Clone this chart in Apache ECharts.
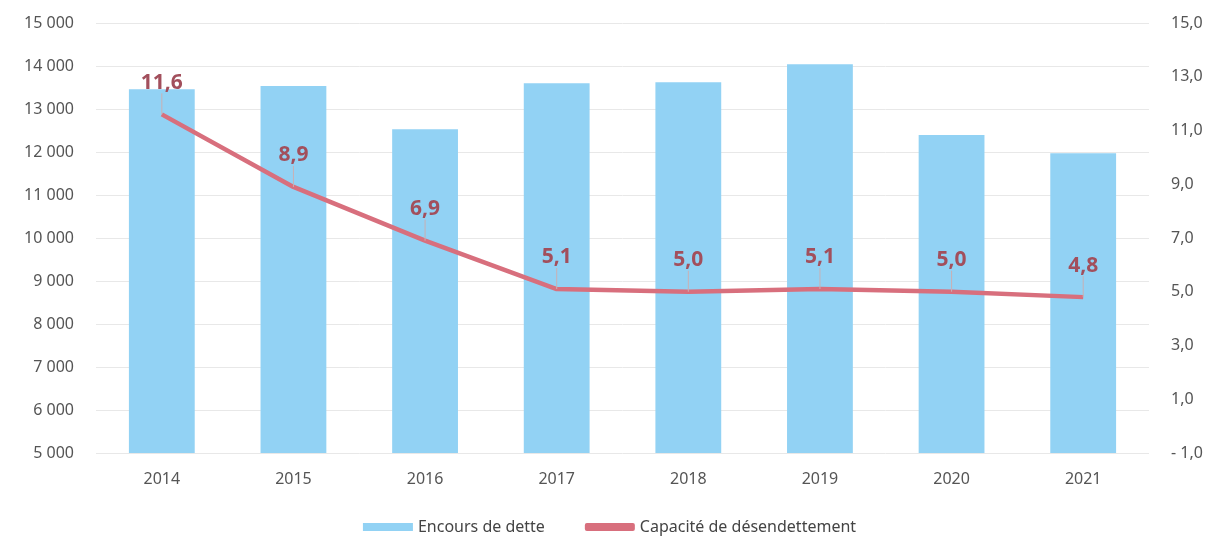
<!DOCTYPE html>
<html><head><meta charset="utf-8">
<script src="https://cdn.jsdelivr.net/npm/echarts@6/dist/echarts.min.js"></script>
<style>html,body{margin:0;padding:0;background:#fff}#c{width:1219px;height:540px}</style>
</head><body><div id="c"></div>
<script>
var years = ['2014','2015','2016','2017','2018','2019','2020','2021'];
var encours = [13460, 13535, 12530, 13600, 13620, 14040, 12395, 11970];
var capacite = [11.6, 8.9, 6.9, 5.1, 5.0, 5.1, 5.0, 4.8];
var seriesNames = ['Encours de dette', 'Capacité de désendettement'];

var FONT = '"Noto Sans", "Liberation Sans", sans-serif';
var chart = echarts.init(document.getElementById('c'));
chart.setOption({
  animation: false,
  textStyle: {fontFamily: FONT},
  grid: {left: 96, right: 70, top: 23, bottom: 87, containLabel: false},
  legend: {
    bottom: 0, left: 'center', itemGap: 40, itemWidth: 50, itemHeight: 8,
    textStyle: {fontSize: 16, color: '#444', fontFamily: FONT},
    data: [{name: seriesNames[0], icon: 'rect'}, {name: seriesNames[1], icon: 'roundRect'}]
  },
  xAxis: {
    type: 'category', data: years,
    axisLine: {show: false}, axisTick: {show: false},
    axisLabel: {fontSize: 16, color: '#555', margin: 18}
  },
  yAxis: [{
    type: 'value', min: 5000, max: 15000, interval: 1000,
    axisLine: {show: false}, axisTick: {show: false},
    splitLine: {lineStyle: {color: '#e8e8e8', width: 1}},
    axisLabel: {fontSize: 16, color: '#555', margin: 22,
      formatter: function (v) { return String(v).replace(/\B(?=(\d{3})+(?!\d))/g, ' '); }}
  }, {
    type: 'value', min: -1, max: 15, interval: 2,
    axisLine: {show: false}, axisTick: {show: false}, splitLine: {show: false},
    axisLabel: {fontSize: 16, color: '#555', margin: 22,
      formatter: function (v) { return v < 0 ? '- ' + Math.abs(v).toFixed(1).replace('.', ',') : v.toFixed(1).replace('.', ','); }}
  }],
  series: [{
    name: seriesNames[0], type: 'bar', data: encours, barWidth: '50%',
    itemStyle: {color: '#92d2f4'}
  }, {
    name: seriesNames[1], type: 'line', yAxisIndex: 1, data: capacite,
    symbol: 'circle', symbolSize: 0.1, showSymbol: true,
    lineStyle: {color: '#d86f7d', width: 4.5}, itemStyle: {color: '#d86f7d'},
    label: {show: true, position: 'top', distance: 5, fontSize: 21, fontWeight: 'bold', color: '#a24f5c',
      formatter: function (p) { return p.value.toFixed(1).replace('.', ','); }},
    labelLayout: {dy: -16},
    labelLine: {show: true, lineStyle: {color: '#c9b0b4', width: 1}}
  }]
});
</script></body></html>
